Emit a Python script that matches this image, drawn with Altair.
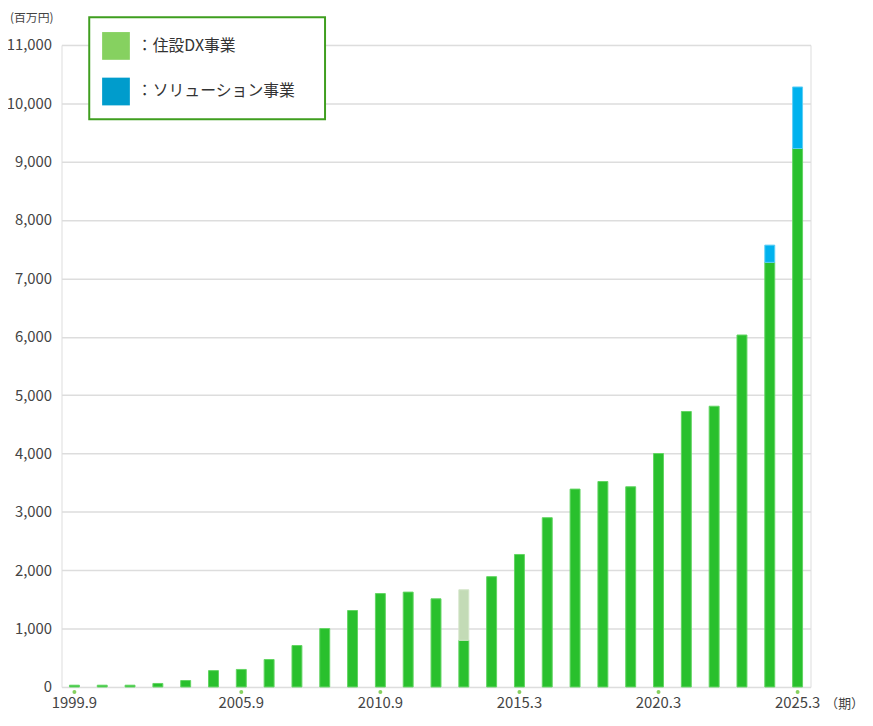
import altair as alt
import pandas as pd

periods = ["1999.9", "2000.9", "2001.9", "2002.9", "2003.9", "2004.9", "2005.9",
           "2006.9", "2007.9", "2008.9", "2009.9", "2010.9", "2011.9", "2012.9",
           "2013.3", "2014.3", "2015.3", "2016.3", "2017.3", "2018.3", "2019.3",
           "2020.3", "2021.3", "2022.3", "2023.3", "2024.3", "2025.3"]
housing_dx = [30, 30, 30, 60, 110, 280, 300, 470, 710, 1000, 1310, 1600, 1625, 1510,
              800, 1890, 2270, 2900, 3390, 3520, 3430, 4000, 4720, 4810, 6030, 7275, 9225]
extra_2013 = [0, 0, 0, 0, 0, 0, 0, 0, 0, 0, 0, 0, 0, 0,
              865, 0, 0, 0, 0, 0, 0, 0, 0, 0, 0, 0, 0]
solution = [0, 0, 0, 0, 0, 0, 0, 0, 0, 0, 0, 0, 0, 0,
            0, 0, 0, 0, 0, 0, 0, 0, 0, 0, 0, 295, 1055]
shown_labels = ["1999.9", "2005.9", "2010.9", "2015.3", "2020.3", "2025.3"]
y_ticks = [0, 1000, 2000, 3000, 4000, 5000, 6000, 7000, 8000, 9000, 10000, 11000]

series_names = ["住設DX事業", "参考", "ソリューション事業"]
series_fill = ["#29c02d", "#c3dbb6", "#00b2ee"]
series_stroke = ["#62d462", "#d3e6c8", "#5ccdf5"]

rows = []
for i, p in enumerate(periods):
    for k, (name, vals) in enumerate(zip(series_names, [housing_dx, extra_2013, solution])):
        if vals[i] > 0:
            rows.append({"period": p, "series": name, "value": vals[i], "ord": k})
df = pd.DataFrame(rows)
dots_df = pd.DataFrame({"period": shown_labels})

W, H = 756, 648
FONT = "Noto Sans CJK JP"
x_sort = periods
label_list = "[" + ",".join("'" + s + "'" for s in shown_labels) + "]"

x_enc = alt.X("period:N", sort=x_sort,
              scale=alt.Scale(paddingInner=0.643, paddingOuter=0.286),
              axis=alt.Axis(title=None, labelExpr=f"indexof({label_list}, datum.value) >= 0 ? datum.value : ''",
                            ticks=False, domain=False, labelAngle=0, labelFontSize=15,
                            labelColor="#444444", labelPadding=9, labelFont=FONT,
                            labelOverlap=False))

bars = alt.Chart(df).mark_bar(strokeWidth=1).encode(
    x=x_enc,
    y=alt.Y("value:Q", stack="zero",
            scale=alt.Scale(domain=[0, 11000], nice=False),
            axis=alt.Axis(values=y_ticks, format=",.0f", title=None, grid=True,
                          gridColor="#dddddd", gridWidth=1.5, ticks=False, domain=False,
                          labelPadding=10, labelFontSize=15, labelColor="#444444",
                          labelFont=FONT)),
    color=alt.Color("series:N", scale=alt.Scale(domain=series_names, range=series_fill), legend=None),
    stroke=alt.Stroke("series:N", scale=alt.Scale(domain=series_names, range=series_stroke), legend=None),
    order=alt.Order("ord:Q"),
)

dots = alt.Chart(dots_df).mark_circle(size=16, color="#86d160", opacity=1).encode(
    x=alt.X("period:N", sort=x_sort),
    y=alt.value(H + 5),
)

one = pd.DataFrame({"a": [0]})
legend_box = alt.Chart(one).mark_rect(fill="white", stroke="#3f9e1f", strokeWidth=2).encode(
    x=alt.value(28), x2=alt.value(266), y=alt.value(-28), y2=alt.value(75))
sq1 = alt.Chart(one).mark_rect(fill="#86d160").encode(
    x=alt.value(41), x2=alt.value(69), y=alt.value(-13), y2=alt.value(15))
sq2 = alt.Chart(one).mark_rect(fill="#009ccc").encode(
    x=alt.value(41), x2=alt.value(69), y=alt.value(33), y2=alt.value(61))
t1 = alt.Chart(pd.DataFrame({"t": ["：住設DX事業"]})).mark_text(
    align="left", baseline="middle", fontSize=16, font=FONT, color="#333333").encode(
    text="t:N", x=alt.value(76), y=alt.value(1))
t2 = alt.Chart(pd.DataFrame({"t": ["：ソリューション事業"]})).mark_text(
    align="left", baseline="middle", fontSize=16, font=FONT, color="#333333").encode(
    text="t:N", x=alt.value(76), y=alt.value(47))
unit = alt.Chart(pd.DataFrame({"t": ["(百万円)"]})).mark_text(
    align="left", baseline="middle", fontSize=12, font=FONT, color="#444444").encode(
    text="t:N", x=alt.value(-52), y=alt.value(-27))
period_lbl = alt.Chart(pd.DataFrame({"t": ["（期）"]})).mark_text(
    align="left", baseline="middle", fontSize=13, font=FONT, color="#444444").encode(
    text="t:N", x=alt.value(771), y=alt.value(H + 17))

chart = alt.layer(bars, dots, legend_box, sq1, sq2, t1, t2, unit, period_lbl).properties(
    width=W, height=H,
    autosize=alt.AutoSizeParams(type="none"),
    padding={"left": 54, "top": 34, "right": 55, "bottom": 24},
).configure_view(stroke=None).configure(font=FONT)

chart.save("out.html", embed_options={"renderer": "svg", "actions": False})
